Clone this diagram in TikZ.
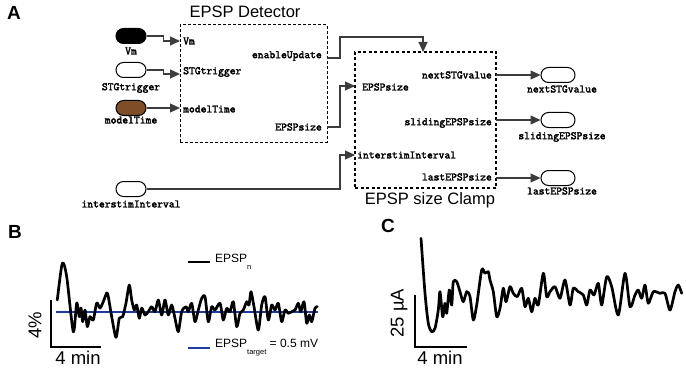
\documentclass[tikz,border=0pt]{standalone}
\usepackage{fontspec}
\setmainfont{Liberation Sans}
\newfontfamily\monof[FakeBold=2.5]{Latin Modern Mono}
\usetikzlibrary{arrows.meta,shapes.misc}
\definecolor{brownfill}{RGB}{125,78,40}
\definecolor{connc}{RGB}{60,60,60}
\definecolor{bluel}{RGB}{30,60,160}
\begin{document}
\begin{tikzpicture}[x=1pt,y=-1pt,
  pill/.style={draw,rounded rectangle,minimum width=30pt,minimum height=15pt,inner sep=0pt,line width=1pt},
  lbl/.style={font=\monof\fontsize{11.3}{12}\selectfont,inner sep=0pt},
  conn/.style={draw=connc,line width=1.1pt},
  arr/.style={conn,-{Triangle[length=10pt,width=9pt]}},
  detbox/.style={draw,line width=1pt,dash pattern=on 3pt off 2pt,inner sep=0pt},
  clampbox/.style={draw,line width=1.7pt,dash pattern=on 3pt off 2.5pt,inner sep=0pt},
  title/.style={font=\fontsize{16.5}{18}\selectfont,inner sep=0pt},
  panel/.style={font=\bfseries\fontsize{19}{20}\selectfont,inner sep=0pt},
  scaletxt/.style={font=\fontsize{18.5}{20}\selectfont,inner sep=0pt},
  legtxt/.style={font=\fontsize{12}{13}\selectfont,inner sep=0pt,anchor=west},
  trace/.style={line width=2.7pt,line join=round,line cap=round},
  sbar/.style={line width=2.5pt}
]
\useasboundingbox (0,0) rectangle (686,369);

% ---------------- Panel A ----------------
\node[panel] (pA) at (14,13) {A};

\node[detbox,minimum width=147pt,minimum height=117pt] (det) at (253.5,83.5) {};
\node[title] (dettitle) at (245,12) {EPSP Detector};

\node[clampbox,minimum width=141pt,minimum height=136pt] (clamp) at (425.5,120) {};
\node[title] (clamptitle) at (430,200) {EPSP size Clamp};

% input pills
\node[pill,fill=black] (vm) at (131,36) {};
\node[lbl] (vmL) at (131,51) {Vm};
\node[pill] (stg) at (131,70) {};
\node[lbl] (stgL) at (131,88) {STGtrigger};
\node[pill,fill=brownfill] (mt) at (131,108) {};
\node[lbl] (mtL) at (131,120) {modelTime};
\node[pill] (isi) at (131,189) {};
\node[lbl] (isiL) at (131,204) {interstimInterval};

% detector ports
\coordinate (dVm) at (180,41);
\coordinate (dSTG) at (180,74);
\coordinate (dMT) at (180,108);
\coordinate (dEn) at (327,58);
\coordinate (dEP) at (327,127);
\node[lbl,anchor=west] (dVmL) at (183,41) {Vm};
\node[lbl,anchor=west] (dSTGL) at (183,72) {STGtrigger};
\node[lbl,anchor=west] (dMTL) at (183,109) {modelTime};
\node[lbl,anchor=east] (dEnL) at (322,56) {enableUpdate};
\node[lbl,anchor=east] (dEPL) at (322,127) {EPSPsize};

% clamp ports
\coordinate (cEn) at (423,52);
\coordinate (cEP) at (355,86);
\coordinate (cIS) at (355,155);
\coordinate (cNx) at (496,75);
\coordinate (cSl) at (496,120);
\coordinate (cLa) at (496,178);
\node[lbl,anchor=west] (cEPL) at (362,87) {EPSPsize};
\node[lbl,anchor=west] (cISL) at (357,155) {interstimInterval};
\node[lbl,anchor=east] (cNxL) at (492,75) {nextSTGvalue};
\node[lbl,anchor=east] (cSlL) at (492,123) {slidingEPSPsize};
\node[lbl,anchor=east] (cLaL) at (492,177) {lastEPSPsize};

% output pills
\node[pill,minimum width=34pt] (nx) at (558,75) {};
\node[lbl] (nxL) at (562,89) {nextSTGvalue};
\node[pill,minimum width=34pt] (sl) at (558,120) {};
\node[lbl] (slL) at (562,137) {slidingEPSPsize};
\node[pill,minimum width=34pt] (la) at (558,178) {};
\node[lbl] (laL) at (562,191) {lastEPSPsize};

% connectors
\draw[arr] (vm.east) -- ++(17,0) |- (dVm);
\draw[arr] (stg.east) -- ++(17,0) |- (dSTG);
\draw[arr] (mt.east) -- (dMT);
\draw[arr] (dEn) -| (340,37) -| (cEn);
\draw[arr] (dEP) -- ++(13,0) |- (cEP);
\draw[arr] (isi.east) -| (340,155) -- (cIS);
\draw[arr] (cNx) -- (nx.west);
\draw[arr] (cSl) -- (sl.west);
\draw[arr] (cLa) -- (la.west);

% ---------------- Panel B ----------------
\node[panel] (pB) at (15,232) {B};
\draw[bluel,line width=1.4pt] (56,312) -- (318,312);
\draw[trace] plot[smooth,tension=0.45] coordinates {
(57.3,300) (62.3,263.3) (66.7,276.7) (73.3,331.7) (76.7,303) (79.3,316.7) (81,308)
(82.7,321.7) (85,310) (87.3,326.7) (90,316.7) (93.3,320) (96.7,303) (100,308)
(103.3,301.7) (106.7,293) (108.3,296.7) (111.7,316.7) (116,337.3) (119.3,318.3)
(122.7,316.7) (126,303) (129.3,285) (131.7,300) (134.3,310) (136.7,305) (139.3,318.3)
(141.7,308) (145,315) (148.3,311.7) (151.7,306.7) (155,311.7) (158.3,300) (161.7,315)
(165,300) (168.3,315) (171.7,305) (175,318.3) (178.3,331.7) (181.7,311.7)
(186,306.7) (188.3,311.7) (191.7,303.3) (195,321.7) (198.3,310) (201.7,298.3)
(205,296.7) (208.3,321.7) (211.7,306.7) (215,310) (220,303.3) (223.3,320) (226.7,308.3)
(230,311.7) (233.3,301.7) (236.7,326.7) (240,313.3) (243.3,310) (246.7,301.7) (249,305)
(251,291.7) (254,306.7) (258.3,330) (261.7,305) (265,296.7) (268.3,320) (271.7,305)
(275,310) (278.3,303.3) (281.7,321.7) (285,310) (288.3,313.3) (291.7,311.7) (295,310)
(298.3,303.3) (300.7,311.7) (304,301.7) (306.7,323.3) (309.3,315) (311.7,321.7)
(315,308.3) (317.3,306.7)};
\draw[sbar] (51,300) -- (51,347) -- (101,347);
\node[scaletxt,rotate=90] (b4p) at (35,325) {4\%};
\node[scaletxt] (b4m) at (78,358) {4 min};
\draw[line width=2.7pt] (188,262) -- (210,262);
\node[legtxt] (legn) at (215,262) {EPSP\raisebox{-7pt}{\fontsize{7.5}{8}\selectfont n}};
\draw[bluel,line width=1.6pt] (188,348) -- (210,348);
\node[legtxt] (legt) at (215,348) {EPSP\raisebox{-7pt}{\fontsize{7.5}{8}\selectfont target} = 0.5 mV};

% ---------------- Panel C ----------------
\node[panel] (pC) at (388,226) {C};
\draw[trace] plot[smooth,tension=0.45] coordinates {
(421,238.3) (425,293.3) (428.3,323.3) (431.7,331.7) (435,328.3) (438.3,310) (440,291.7)
(442.7,316.7) (445,303.3) (446.7,313.3) (449.3,290) (451.7,305) (453.3,281.7)
(456.7,281.7) (460,291.7) (463.3,301.7) (466.7,291.7) (470,296.7) (473.3,320)
(476.7,305) (481.7,270) (485,273.3) (488.3,271.7) (490,280) (493.3,291.7) (496.7,316.7)
(500,308.3) (503.3,288.3) (506,301.7) (510,286.7) (513.3,293.3) (517.3,296.7)
(521.7,288.3) (525,306.7) (528.3,298.3) (531.7,311.7) (535,298.3) (538.3,305)
(543.3,273.3) (546.7,296.7) (550,291.7) (555,286.7) (560,298.3) (565,280) (570,305)
(573.3,288.3) (578.3,291.7) (583.3,295) (586.7,305) (590,290) (594,295) (598.3,283.3)
(601.7,305) (606.7,276.7) (611.7,286.7) (618.3,315) (625,273.3) (630,306.7) (635,295)
(638.3,290) (641.7,298.3) (645,285) (648.3,303.3) (653.3,291.7) (660,293.3) (665,293.3)
(670,310) (675,291.7) (678.3,285) (681.7,293.3)};
\draw[sbar] (415,295) -- (415,347) -- (467,347);
\node[scaletxt,rotate=90] (c25) at (399,313) {25 µA};
\node[scaletxt] (c4m) at (440,358) {4 min};
\end{tikzpicture}
\end{document}
